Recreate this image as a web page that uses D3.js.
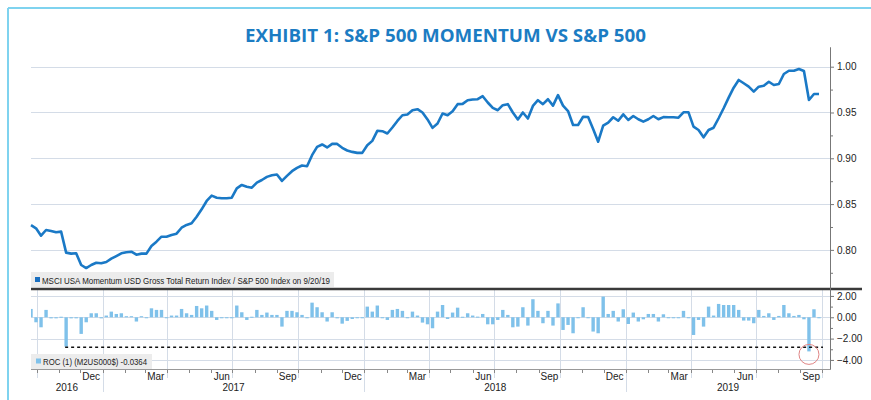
<!DOCTYPE html>
<html lang="en">
<head>
    <meta charset="UTF-8">
    <title>Exhibit 1: S&amp;P 500 Momentum vs S&amp;P 500</title>
    <script src="https://d3js.org/d3.v7.min.js"></script>
    <style>
        body {
            margin: 0;
            background: #fff;
        }
        svg text {
            font-family: "Liberation Sans", Arial, sans-serif;
            fill: #222;
        }
        .title {
            font-family: "Open Sans", sans-serif;
            font-weight: 700;
            fill: #1b7cc3 !important;
        }
        .axis path, .axis line {
            stroke: #777;
        }
        .axis text {
            font-size: 10px;
        }
    </style>
</head>
<body>
<svg id="chart" width="871" height="400"></svg>
<script>
    // weekly ratio, MSCI USA Momentum / S&P 500, last value on 9/20/19
    const ratioValues = [
        0.827, 0.8236, 0.8155, 0.8217, 0.8206, 0.8192, 0.8199, 0.797, 0.7959, 0.7963,
        0.7835, 0.7802, 0.7835, 0.786, 0.7854, 0.7868, 0.7904, 0.7933, 0.7963, 0.7974,
        0.798, 0.7948, 0.7959, 0.7959, 0.8043, 0.809, 0.8144, 0.8144, 0.8163, 0.8177,
        0.8242, 0.8272, 0.829, 0.8362, 0.8443, 0.8534, 0.8592, 0.857, 0.8563, 0.8563,
        0.857, 0.8672, 0.8709, 0.869, 0.8679, 0.8734, 0.8763, 0.8797, 0.8815, 0.8823,
        0.8753, 0.8808, 0.8859, 0.8895, 0.8921, 0.8914, 0.9034, 0.9124, 0.9151, 0.9118,
        0.9157, 0.9157, 0.9114, 0.9085, 0.907, 0.9059, 0.9059, 0.9143, 0.919, 0.93,
        0.9296, 0.9271, 0.9336, 0.9408, 0.947, 0.9478, 0.9525, 0.9536, 0.95, 0.9424,
        0.9332, 0.938, 0.9489, 0.947, 0.9514, 0.9591, 0.9594, 0.9634, 0.9642, 0.9645,
        0.9678, 0.9609, 0.955, 0.9525, 0.958, 0.9591, 0.95, 0.9424, 0.95, 0.9434,
        0.9572, 0.9634, 0.9591, 0.9645, 0.9575, 0.969, 0.9575, 0.9516, 0.9364, 0.9364,
        0.9454, 0.945, 0.932, 0.9181, 0.9356, 0.9389, 0.9448, 0.941, 0.948, 0.9418,
        0.9462, 0.9426, 0.94, 0.9426, 0.9462, 0.9426, 0.945, 0.9448, 0.9448, 0.9443,
        0.9502, 0.9502, 0.9345, 0.9309, 0.9229, 0.9309, 0.9334, 0.9437, 0.9546, 0.9662,
        0.9771, 0.9855, 0.9819, 0.9782, 0.9727, 0.9782, 0.9793, 0.9836, 0.98, 0.9811,
        0.992, 0.9956, 0.9956, 0.9975, 0.9953, 0.9636, 0.9702, 0.9702
    ];

    // ROC(1), weekly % change
    const rocValues = [
        0.78, -0.47, -0.94, 0.69, -0.1, -0.1, 0.05, -2.75, -0.1, -0.1,
        -1.56, -0.47, 0.375, 0.375, -0.1, 0.16, 0.53, 0.31, 0.375, 0.1,
        0.1, -0.4, 0.1, 0, 0.84, 0.69, 0.69, 0, 0.16, 0.16,
        0.78, 0.375, 0.22, 1.06, 0.84, 1.1, 0.6, -0.25, 0, 0,
        0, 1.1, 0.47, -0.25, 0.05, 0.69, 0.22, 0.44, 0.22, 0.22,
        -0.875, 0.6, 0.6, 0.47, 0.22, 0, 1.37, 0.94, 0.47, -0.4,
        0.47, -0.1, -0.6, -0.34, -0.16, 0, 0, 1.0, 0.53, 1.1,
        0, -0.25, 0.69, 0.78, 0.6, 0, 0.53, 0.16, -0.5, -0.66,
        -1.03, 0.53, 1.15, -0.16, 0.44, 0.9, 0.05, 0.375, 0.16, 0.06,
        0.31, -0.66, -0.66, -0.25, 0.69, 0.22, -0.94, -0.875, 0.94, -0.78,
        1.69, 0.6, -0.56, 0.6, -0.78, 1.3, -1.19, -0.72, -1.5, 0,
        0.94, 0, -1.34, -1.5, 1.94, 0.31, 0.6, -0.4, 0.75, -0.63,
        0.44, -0.4, -0.19, 0.31, 0.31, -0.4, 0.28, 0, 0, 0,
        0.6, 0, -1.66, -0.25, -0.875, 1.0, 0.16, 1.25, 1.15, 1.15,
        1.15, 0.69, -0.31, -0.31, -0.56, 0.69, 0.125, 0.375, -0.25, 0.125,
        1.15, 0.375, 0.125, 0.22, -0.19, -3.2, 0.75, -0.04
    ];

    const ratioTicks = [0.80, 0.85, 0.90, 0.95, 1.00];
    const ratioMinorTicks = [0.775, 0.825, 0.875, 0.925, 0.975];
    const rocTicks = [2, 0, -2, -4];
    const rocMinorTicks = [1, -1, -3];
    const monthLabels = {11: "Dec", 2: "Mar", 5: "Jun", 8: "Sep"};
    const yearLabels = ["2016", "2017", "2018", "2019"];
    const rocLevel = -2.8;     // dashed line, Dec 2016 drop
    const rocLevelStart = 7;   // index of the bar it starts from
    const rocHighlight = 155;  // circled bar

    const lastDate = new Date(2019, 8, 20);
    const dates = ratioValues.map((v, i) => d3.timeWeek.offset(lastDate, i - (ratioValues.length - 1)));

    const left = 31, right = 830;
    const svg = d3.select("#chart");

    // time axis; Bloomberg draws each weekly value at the end of the following week
    const x = d3.scaleTime()
        .domain([new Date(2016, 8, 23), new Date(2019, 8, 27)])
        .range([31, 819]);
    const px = d => x(d3.timeWeek.offset(d, 1));

    const yTop = d3.scaleLinear().domain([0.7573, 1.0215]).range([289, 47]);
    const yRoc = d3.scaleLinear().domain([-4.85, 2.65]).range([369, 289]);

    // frame
    svg.append("line").attr("x1", 8).attr("x2", 871).attr("y1", 8).attr("y2", 8)
        .attr("stroke", "#7fd3ef").attr("stroke-width", 2);
    svg.append("line").attr("x1", 8).attr("x2", 8).attr("y1", 8).attr("y2", 400)
        .attr("stroke", "#7fd3ef").attr("stroke-width", 2);

    svg.append("text")
        .attr("class", "title")
        .attr("x", 445.5)
        .attr("y", 42.3)
        .attr("text-anchor", "middle")
        .attr("font-size", 18)
        .attr("textLength", 401)
        .attr("lengthAdjust", "spacingAndGlyphs")
        .text("EXHIBIT 1: S&P 500 MOMENTUM VS S&P 500");

    // gridlines
    const grid = svg.append("g").attr("stroke", "#d4dce7").attr("stroke-width", 1);
    grid.selectAll(".hTop").data(ratioTicks).enter().append("line")
        .attr("x1", left).attr("x2", right)
        .attr("y1", d => Math.round(yTop(d)) + 0.5).attr("y2", d => Math.round(yTop(d)) + 0.5);
    grid.selectAll(".hRoc").data(rocTicks).enter().append("line")
        .attr("x1", left).attr("x2", right)
        .attr("y1", d => Math.round(yRoc(d)) + 0.5).attr("y2", d => Math.round(yRoc(d)) + 0.5);

    const quarters = d3.timeMonth.range(new Date(2016, 9, 1), new Date(2019, 11, 1), 3)
        .filter(d => x(d) > left && x(d) < right);
    grid.selectAll(".vRoc").data(quarters).enter().append("line")
        .attr("x1", d => Math.round(x(d)) + 0.5).attr("x2", d => Math.round(x(d)) + 0.5)
        .attr("y1", 289)
        .attr("y2", d => d.getMonth() === 0 ? 392 : 378);

    // month ticks under the lower panel
    const months = d3.timeMonth.range(new Date(2016, 9, 1), new Date(2019, 10, 1))
        .filter(d => x(d) > left && x(d) < right);
    svg.append("g").attr("stroke", "#888").selectAll("line").data(months).enter().append("line")
        .attr("x1", d => Math.round(x(d)) + 0.5).attr("x2", d => Math.round(x(d)) + 0.5)
        .attr("y1", 369).attr("y2", 373);

    // bars
    svg.append("clipPath").attr("id", "rocClip")
        .append("rect").attr("x", left).attr("y", 289).attr("width", right - left).attr("height", 80);
    svg.append("g")
        .attr("clip-path", "url(#rocClip)")
        .selectAll("rect")
        .data(rocValues)
        .enter()
        .append("rect")
        .attr("x", (d, i) => px(dates[i]) - 1.7)
        .attr("width", 3.4)
        .attr("y", d => Math.min(yRoc(d), yRoc(0)))
        .attr("height", d => Math.max(1, Math.abs(yRoc(d) - yRoc(0))))
        .attr("fill", "#7fc1ea");

    svg.append("line")
        .attr("x1", px(dates[rocLevelStart]) - 1).attr("x2", 823)
        .attr("y1", yRoc(rocLevel)).attr("y2", yRoc(rocLevel))
        .attr("stroke", "#111").attr("stroke-width", 1.5)
        .attr("stroke-dasharray", "3,3");

    svg.append("circle")
        .attr("cx", px(dates[rocHighlight]))
        .attr("cy", yRoc(rocValues[rocHighlight]) + 3)
        .attr("r", 10)
        .attr("fill", "none")
        .attr("stroke", "#e08585")
        .attr("stroke-width", 1);

    // ratio line
    const line = d3.line()
        .x((d, i) => px(dates[i]))
        .y(d => yTop(d));
    svg.append("path")
        .datum(ratioValues)
        .attr("fill", "none")
        .attr("stroke", "#1a79c6")
        .attr("stroke-width", 2.6)
        .attr("stroke-linejoin", "round")
        .attr("d", line);

    // bottom axis line and separator
    svg.append("line").attr("x1", left).attr("x2", right).attr("y1", 369.5).attr("y2", 369.5)
        .attr("stroke", "#999");
    svg.append("line").attr("x1", left).attr("x2", 862).attr("y1", 289).attr("y2", 289)
        .attr("stroke", "#3a3a3a").attr("stroke-width", 2.5);

    // legends
    svg.append("rect").attr("x", left).attr("y", 272).attr("width", 303).attr("height", 15).attr("fill", "#ececec");
    svg.append("rect").attr("x", 35).attr("y", 277).attr("width", 5).attr("height", 5).attr("fill", "#1a6fc0");
    svg.append("text").attr("x", 42).attr("y", 283.5).attr("font-size", 9)
        .attr("textLength", 288).attr("lengthAdjust", "spacingAndGlyphs")
        .text("MSCI USA Momentum USD Gross Total Return Index / S&P 500 Index on 9/20/19");

    svg.append("rect").attr("x", left).attr("y", 354).attr("width", 121).attr("height", 15).attr("fill", "#ececec");
    svg.append("rect").attr("x", 36).attr("y", 358.5).attr("width", 5).attr("height", 5).attr("fill", "#7fc1ea");
    svg.append("text").attr("x", 43).attr("y", 365).attr("font-size", 9)
        .attr("textLength", 104).attr("lengthAdjust", "spacingAndGlyphs")
        .text("ROC (1) (M2US000$) -0.0364");

    // right axes
    svg.append("g").attr("class", "axis").attr("transform", `translate(${right},0)`)
        .call(d3.axisRight(yTop).tickValues(ratioTicks).tickFormat(d3.format(".2f")).tickSize(4).tickSizeOuter(0));
    svg.append("g").attr("class", "axis").attr("transform", `translate(${right},0)`)
        .call(d3.axisRight(yTop).tickValues(ratioMinorTicks).tickFormat("").tickSize(3).tickSizeOuter(0));
    svg.append("g").attr("class", "axis").attr("transform", `translate(${right},0)`)
        .call(d3.axisRight(yRoc).tickValues(rocTicks).tickFormat(d3.format(".2f")).tickSize(4).tickSizeOuter(0));
    svg.append("g").attr("class", "axis").attr("transform", `translate(${right},0)`)
        .call(d3.axisRight(yRoc).tickValues(rocMinorTicks).tickFormat("").tickSize(3).tickSizeOuter(0));
    svg.selectAll(".axis .tick text").attr("x", 7).attr("fill", "#222");

    // month labels, centred on the month
    const labelMonths = months.filter(d => monthLabels[d.getMonth()] !== undefined);
    svg.append("g").selectAll("text").data(labelMonths).enter().append("text")
        .attr("x", d => x(d3.timeDay.offset(d, 15)))
        .attr("y", 380)
        .attr("text-anchor", "middle")
        .attr("font-size", 10)
        .text(d => monthLabels[d.getMonth()]);

    // year labels, centred on the visible part of each year
    svg.append("g").selectAll("text").data(yearLabels).enter().append("text")
        .attr("x", d => {
            const a = Math.max(left, x(new Date(+d, 0, 1)));
            const b = Math.min(right, x(new Date(+d + 1, 0, 1)));
            return (a + b) / 2;
        })
        .attr("y", 391)
        .attr("text-anchor", "middle")
        .attr("font-size", 10)
        .text(d => d);
</script>
</body>
</html>
